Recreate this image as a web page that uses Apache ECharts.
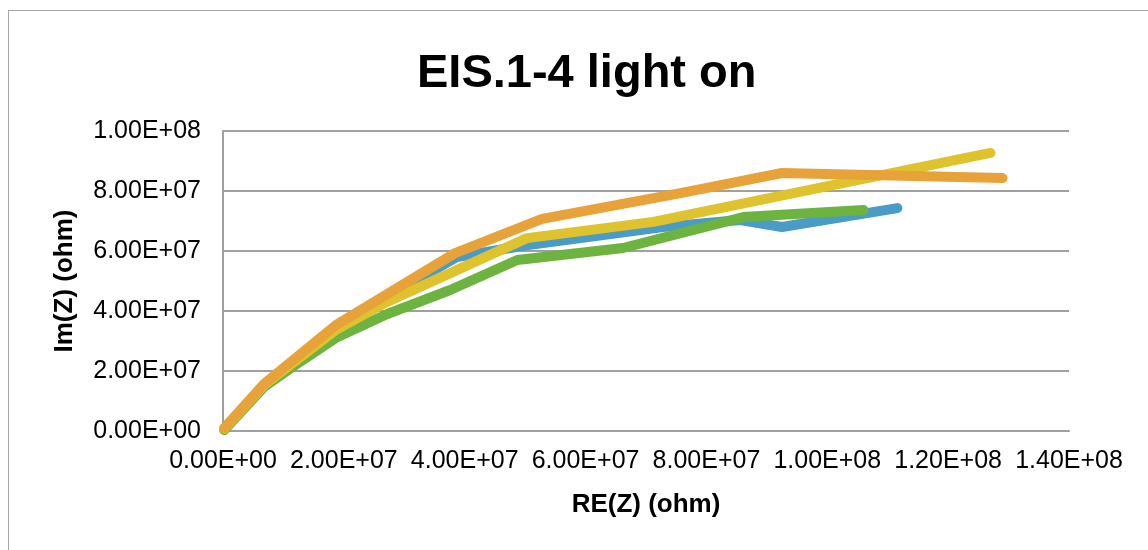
<!DOCTYPE html>
<html>
<head>
<meta charset="utf-8">
<script src="https://cdn.jsdelivr.net/npm/echarts@6/dist/echarts.min.js"></script>
<style>
html,body{margin:0;padding:0;background:#fff;}
#frame{position:absolute;left:8px;top:10px;width:1160px;height:560px;border:1.5px solid #a6a6a6;box-sizing:border-box;}
#chart{position:absolute;left:0;top:0;width:1148px;height:550px;}
</style>
</head>
<body>
<div id="frame"></div>
<div id="chart"></div>
<script>
const titleText = 'EIS.1-4 light on';
const xAxisName = 'RE(Z) (ohm)';
const yAxisName = 'Im(Z) (ohm)';
const xTickLabels = ['0.00E+00','2.00E+07','4.00E+07','6.00E+07','8.00E+07','1.00E+08','1.20E+08','1.40E+08'];
const yTickLabels = ['0.00E+00','2.00E+07','4.00E+07','6.00E+07','8.00E+07','1.00E+08'];

const blueRe  = [2e5, 6.8e6, 1.87e7, 3.87e7, 5.05e7, 7.28e7, 8.56e7, 9.25e7, 1.116e8];
const blueIm  = [7e5, 1.53e7, 3.47e7, 5.8e7, 6.2e7, 6.8e7, 7.03e7, 6.8e7, 7.43e7];
const greenRe = [2e5, 6.8e6, 1.27e7, 1.89e7, 2.72e7, 3.76e7, 4.87e7, 6.62e7, 8.61e7, 1.06e8];
const greenIm = [3e5, 1.47e7, 2.3e7, 3.13e7, 3.9e7, 4.7e7, 5.7e7, 6.1e7, 7.13e7, 7.37e7];
const yellowRe = [2e5, 6.8e6, 1.87e7, 2.68e7, 5.03e7, 7.12e7, 9.06e7, 1.27e8];
const yellowIm = [7e5, 1.53e7, 3.37e7, 4.27e7, 6.43e7, 6.97e7, 7.77e7, 9.27e7];
const orangeRe = [2e5, 6.8e6, 1.87e7, 3.84e7, 5.28e7, 7.57e7, 9.25e7, 1.29e8];
const orangeIm = [1e6, 1.57e7, 3.53e7, 5.93e7, 7.07e7, 7.93e7, 8.6e7, 8.43e7];

const pairs = (xs, ys) => xs.map((x, i) => [x, ys[i]]);
const font = 'Arial, "Liberation Sans", Helvetica, sans-serif';

function mkSeries(name, xs, ys, color) {
  return {
    name: name, type: 'line', data: pairs(xs, ys), showSymbol: false, symbol: 'none',
    lineStyle: { color: color, width: 10, cap: 'round', join: 'round' },
    itemStyle: { color: color }, animation: false
  };
}

const chart = echarts.init(document.getElementById('chart'), null, { renderer: 'canvas' });
chart.setOption({
  backgroundColor: 'transparent',
  animation: false,
  title: {
    text: titleText, left: 412, top: 46,
    textStyle: { fontFamily: font, fontSize: 47, fontWeight: 'bold', color: '#000' }
  },
  grid: { left: 223, right: 79, top: 131, bottom: 119 },
  xAxis: {
    type: 'value', min: 0, max: 1.4e8, interval: 2e7,
    name: xAxisName, nameLocation: 'middle', nameGap: 61,
    nameTextStyle: { fontFamily: font, fontSize: 26, fontWeight: 'bold', color: '#000' },
    axisLine: { show: true, lineStyle: { color: '#a0a0a0', width: 2 } },
    axisTick: { show: false },
    splitLine: { show: false },
    axisLabel: {
      fontFamily: font, fontSize: 25, color: '#000', margin: 18,
      formatter: v => xTickLabels[Math.round(v / 2e7)]
    }
  },
  yAxis: {
    type: 'value', min: 0, max: 1e8, interval: 2e7,
    name: yAxisName, nameLocation: 'middle', nameGap: 145, nameRotate: 90,
    nameTextStyle: { fontFamily: font, fontSize: 26, fontWeight: 'bold', color: '#000' },
    axisLine: { show: true, lineStyle: { color: '#a0a0a0', width: 2 } },
    axisTick: { show: false },
    splitLine: { show: true, lineStyle: { color: '#a0a0a0', width: 2 } },
    axisLabel: {
      fontFamily: font, fontSize: 25, color: '#000', margin: 22,
      formatter: v => yTickLabels[Math.round(v / 2e7)]
    }
  },
  series: [
    mkSeries('EIS.1', blueRe, blueIm, '#4a9cc7'),
    mkSeries('EIS.2', greenRe, greenIm, '#6db33f'),
    mkSeries('EIS.3', yellowRe, yellowIm, '#dfc32e'),
    mkSeries('EIS.4', orangeRe, orangeIm, '#e8a23a')
  ]
});
</script>
</body>
</html>
